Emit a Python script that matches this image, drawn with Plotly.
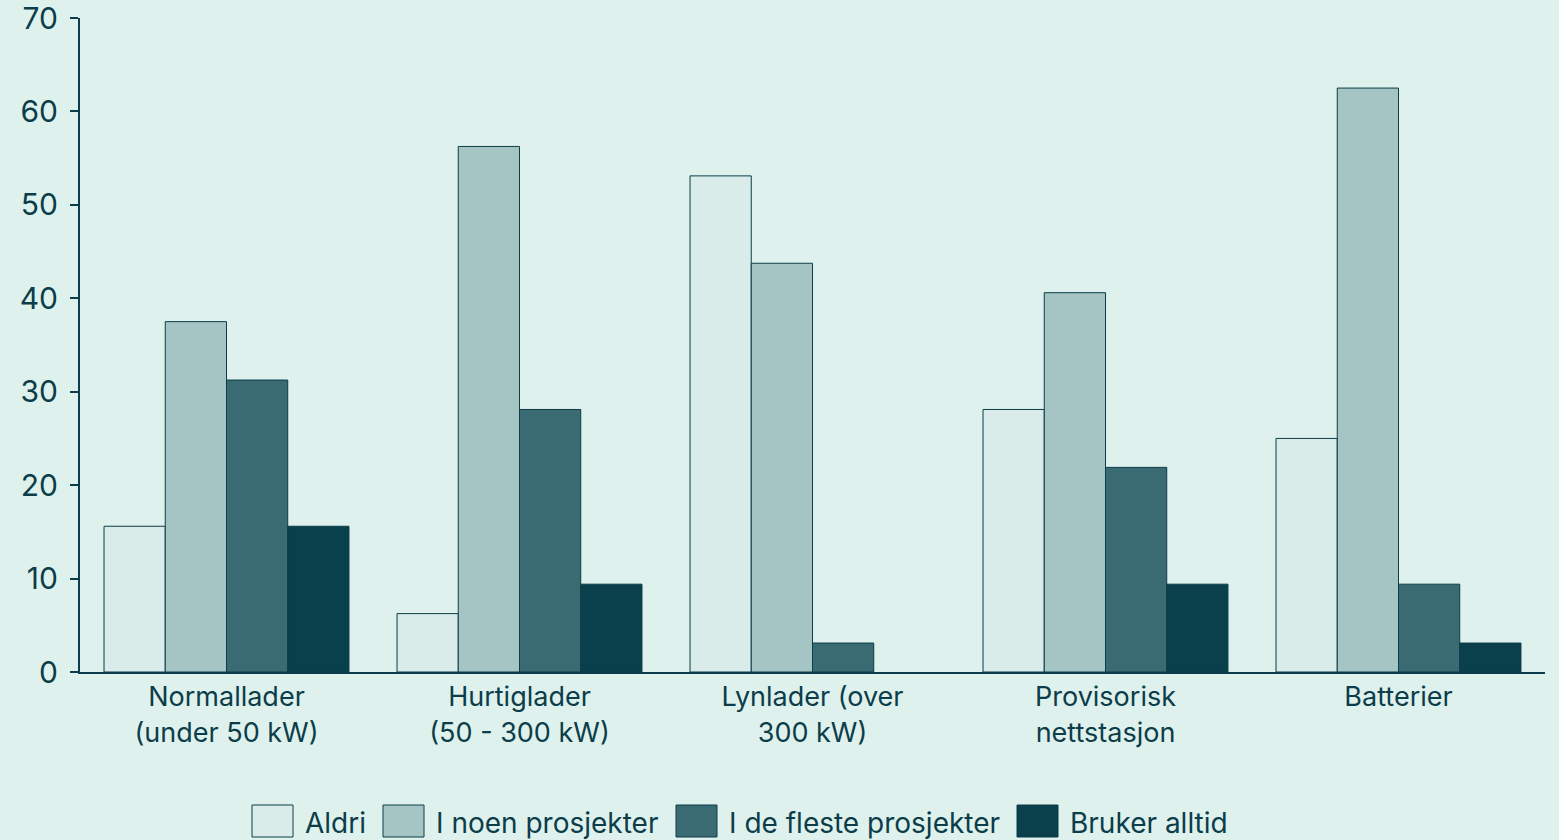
import plotly.graph_objects as go

# Survey results: share of respondents (%) per charging solution
categories = [
    "Normallader<br>(under 50 kW)",
    "Hurtiglader<br>(50 - 300 kW)",
    "Lynlader (over<br>300 kW)",
    "Provisorisk<br>nettstasjon",
    "Batterier",
]
series_names = ["Aldri", "I noen prosjekter", "I de fleste prosjekter", "Bruker alltid"]
aldri = [15.6, 6.25, 53.1, 28.1, 25.0]
i_noen = [37.5, 56.25, 43.75, 40.6, 62.5]
i_de_fleste = [31.25, 28.1, 3.1, 21.9, 9.4]
bruker_alltid = [15.6, 9.4, 0.0, 9.4, 3.1]
y_ticks = [0, 10, 20, 30, 40, 50, 60, 70]

colors = ["#d9ece9", "#a5c4c4", "#3b6b72", "#0a3f4c"]
outline = "#0b3d4a"
bg = "#dff1ec"
text_color = "#0b3d4a"
font_family = "Inter, Roboto, sans-serif"

fig = go.Figure()
for name, vals, col in zip(series_names, [aldri, i_noen, i_de_fleste, bruker_alltid], colors):
    fig.add_trace(go.Bar(
        x=categories, y=vals, name=name,
        marker=dict(
            color=col,
            # no outline on empty bars
            line=dict(color=outline, width=[1 if v > 0 else 0 for v in vals]),
        ),
        showlegend=False,
    ))

# Custom legend with large square swatches below the plot
legend_x = [252, 383, 676, 1017]
W, H = 1559, 840
L, R, T, B = 80, 14, 18, 168
pw, ph = W - L - R, H - T - B
for name, col, lx in zip(series_names, colors, legend_x):
    fig.add_shape(
        type="rect", xref="paper", yref="paper",
        x0=(lx - L) / pw, x1=(lx + 41 - L) / pw,
        y0=-(837 - (H - B)) / ph, y1=-(805 - (H - B)) / ph,
        fillcolor=col, line=dict(color=outline, width=1), layer="above",
    )
    fig.add_annotation(
        text=name, xref="paper", yref="paper",
        x=(lx + 51 - L) / pw, y=-(823 - (H - B)) / ph,
        xanchor="left", yanchor="middle", showarrow=False,
        font=dict(size=28, color=text_color, family=font_family),
    )

fig.update_layout(
    width=W, height=H,
    paper_bgcolor=bg, plot_bgcolor=bg,
    margin=dict(l=L, r=R, t=T, b=B),
    barmode="group", bargap=0.164, bargroupgap=0,
    font=dict(family=font_family, color=text_color, size=28),
    xaxis=dict(
        showline=True, linecolor=outline, linewidth=2,
        ticks="", showgrid=False, zeroline=False, automargin=False,
        tickfont=dict(size=27, color=text_color),
    ),
    yaxis=dict(
        range=[0, 70], tickvals=y_ticks,
        showline=True, linecolor=outline, linewidth=2,
        ticks="outside", ticklen=8, tickwidth=2, tickcolor=outline,
        ticklabelstandoff=6, ticklabeloverflow="allow",
        showgrid=False, zeroline=False, automargin=False,
        tickfont=dict(size=30, color=text_color),
    ),
)

fig.write_html("out.html")
